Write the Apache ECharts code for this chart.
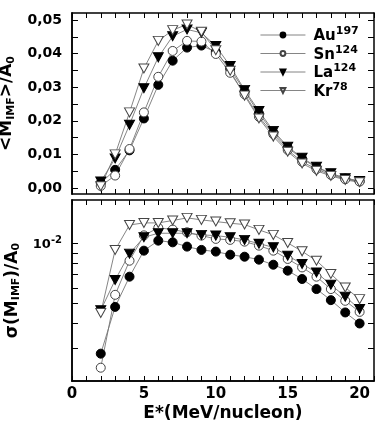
<!DOCTYPE html>
<html>
<head>
<meta charset="utf-8">
<script src="https://cdn.jsdelivr.net/npm/echarts@6/dist/echarts.min.js"></script>
<style>
    html, body { margin: 0; padding: 0; background: #fff; }
    #chart { width: 382px; height: 436px; }
</style>
</head>
<body>
<div id="chart"></div>
<script>
    // 激发能 E*(MeV/nucleon)
    const energy = [2, 3, 4, 5, 6, 7, 8, 9, 10, 11, 12, 13, 14, 15, 16, 17, 18, 19, 20];
    const systems = ["Au", "Sn", "La", "Kr"];
    const masses = { Au: "197", Sn: "124", La: "124", Kr: "78" };

    // 上图 <M_IMF>/A0
    const meanAu = [0.0015, 0.0054, 0.0112, 0.0207, 0.0307, 0.0379, 0.0418, 0.0424, 0.0405, 0.0355, 0.0288, 0.0222, 0.0165, 0.012, 0.0087, 0.0061, 0.0042, 0.0028, 0.002];
    const meanSn = [0.0006, 0.0037, 0.0116, 0.0225, 0.0331, 0.0408, 0.0438, 0.0436, 0.0399, 0.0343, 0.0279, 0.0212, 0.016, 0.0113, 0.0078, 0.0056, 0.0039, 0.0026, 0.0019];
    const meanLa = [0.0019, 0.0088, 0.0188, 0.0297, 0.0389, 0.0452, 0.0472, 0.0462, 0.0423, 0.0363, 0.0292, 0.0229, 0.017, 0.0123, 0.009, 0.0063, 0.0044, 0.0029, 0.0021];
    const meanKr = [0.0005, 0.01, 0.0225, 0.0356, 0.0438, 0.047, 0.0487, 0.0465, 0.041, 0.0349, 0.0275, 0.0207, 0.0153, 0.0108, 0.0073, 0.0051, 0.0036, 0.0024, 0.0017];

    // 下图 sigma(M_IMF)/A0 (对数轴)
    const sigAu = [0.00281, 0.00482, 0.00683, 0.00922, 0.01035, 0.01015, 0.00966, 0.0093, 0.00912, 0.0088, 0.0086, 0.00831, 0.00784, 0.00732, 0.00665, 0.00592, 0.00521, 0.00452, 0.00398];
    const sigSn = [0.00239, 0.00554, 0.00821, 0.011, 0.012, 0.01176, 0.0114, 0.01097, 0.01056, 0.01044, 0.01023, 0.00977, 0.00922, 0.00838, 0.0076, 0.00683, 0.00592, 0.00517, 0.00455];
    const sigLa = [0.00464, 0.00657, 0.00891, 0.01076, 0.01127, 0.01127, 0.01127, 0.01106, 0.01097, 0.01076, 0.01044, 0.01, 0.00958, 0.0087, 0.00791, 0.00717, 0.00622, 0.00542, 0.0047];
    const sigKr = [0.00449, 0.0093, 0.0124, 0.0127, 0.0127, 0.01305, 0.01346, 0.01315, 0.0129, 0.01265, 0.01246, 0.01172, 0.01106, 0.01008, 0.00915, 0.00821, 0.00705, 0.00603, 0.00527];

    // 刻度
    const xLabels = [0, 5, 10, 15, 20];
    const meanTicks = [0, 0.005, 0.01, 0.015, 0.02, 0.025, 0.03, 0.035, 0.04, 0.045, 0.05];
    const meanLabels = [0, 0.01, 0.02, 0.03, 0.04, 0.05];
    const sigTicks = [0.002, 0.003, 0.004, 0.005, 0.006, 0.007, 0.008, 0.009, 0.01];
    const sigLabels = [0.01];

    const FONT = "DejaVu Sans";
    const GRID_W = 302;
    const GRID_H = 181;
    const downTri = "path://M0,0L10,0L5,9Z";
    let markers = {
        Au: { symbol: "circle", size: 9, fill: "#000", border: "#000" },
        Sn: { symbol: "circle", size: 9, fill: "#fff", border: "#444" },
        La: { symbol: downTri, size: [10, 9], fill: "#000", border: "#000" },
        Kr: { symbol: downTri, size: [10, 9], fill: "#fff", border: "#444" },
    };
    let meanData = { Au: meanAu, Sn: meanSn, La: meanLa, Kr: meanKr };
    let sigData = { Au: sigAu, Sn: sigSn, La: sigLa, Kr: sigKr };

    let axisLine = { show: true, onZero: false, lineStyle: { color: "#000", width: 1.5 } };
    let tickLine = { color: "#000", width: 1 };
    let boldText = { fontFamily: FONT, fontWeight: "bold", color: "#000" };

    // 框内刻度: 反向放置 + 负 offset, 让外刻度朝里
    function xTickAxis(gridIndex, position) {
        return {
            type: "value",
            gridIndex: gridIndex,
            position: position,
            offset: -GRID_H,
            min: 0,
            max: 21,
            interval: 1,
            axisLine: axisLine,
            axisTick: { show: true, length: 5, lineStyle: tickLine },
            axisLabel: { show: false },
            splitLine: { show: false },
        };
    }

    function meanAxis(position, offset) {
        return {
            type: "value",
            gridIndex: 0,
            position: position,
            offset: offset,
            min: -0.0018,
            max: 0.0521,
            axisLine: axisLine,
            axisTick: { show: offset !== 0, length: 6, customValues: meanTicks, lineStyle: tickLine },
            axisLabel: {
                show: offset === 0,
                customValues: meanLabels,
                margin: 10,
                fontSize: 14,
                ...boldText,
                formatter: (v) => v.toFixed(2).replace(".", ","),
            },
            splitLine: { show: false },
        };
    }

    function sigAxis(position, offset) {
        return {
            type: "log",
            logBase: 10,
            gridIndex: 1,
            position: position,
            offset: offset,
            min: 0.00205,
            max: 0.01654,
            axisLine: axisLine,
            axisTick: { show: offset !== 0, length: 6, customValues: sigTicks, lineStyle: tickLine },
            minorTick: { show: false },
            axisLabel: {
                show: offset === 0,
                customValues: sigLabels,
                margin: 10,
                color: "#000",
                formatter: () => "{b|10}{s|-2}",
                rich: {
                    b: { ...boldText, fontSize: 13, lineHeight: 16, verticalAlign: "bottom" },
                    s: { ...boldText, fontSize: 10, lineHeight: 10, verticalAlign: "top" },
                },
            },
            splitLine: { show: false },
        };
    }

    let nameRich = {
        t: { ...boldText, fontSize: 17, lineHeight: 18, verticalAlign: "top" },
        u: { ...boldText, fontSize: 11, lineHeight: 9, verticalAlign: "bottom" },
    };

    let xAxes = [
        xTickAxis(0, "top"), // 上图下边框
        xTickAxis(0, "bottom"), // 上图上边框
        xTickAxis(1, "top"), // 下图下边框
        xTickAxis(1, "bottom"), // 下图上边框
        {
            type: "value",
            gridIndex: 1,
            position: "bottom",
            min: 0,
            max: 21,
            interval: 1,
            axisLine: axisLine,
            axisTick: { show: false },
            axisLabel: { customValues: xLabels, margin: 6, fontSize: 15, ...boldText },
            splitLine: { show: false },
            name: "E*(MeV/nucleon)",
            nameLocation: "middle",
            nameGap: 24,
            nameTextStyle: { ...boldText, fontSize: 17, verticalAlign: "top" },
        },
    ];

    let yAxes = [
        Object.assign(meanAxis("left", 0), {
            name: "{t|<M}{u|IMF}{t|>/A}{u|0}",
            nameLocation: "middle",
            nameRotate: 90,
            nameGap: 46,
            nameTextStyle: { rich: nameRich },
        }),
        meanAxis("right", -GRID_W), // 左边框刻度
        meanAxis("left", -GRID_W), // 右边框刻度
        Object.assign(sigAxis("left", 0), {
            name: "{t|σ(M}{u|IMF}{t|)/A}{u|0}",
            nameLocation: "middle",
            nameRotate: 90,
            nameGap: 46,
            nameTextStyle: { rich: nameRich },
        }),
        sigAxis("right", -GRID_W),
        sigAxis("left", -GRID_W),
    ];

    function makeSeries(name, values, xIndex, yIndex) {
        let m = markers[name];
        return {
            type: "line",
            name: name,
            xAxisIndex: xIndex,
            yAxisIndex: yIndex,
            data: energy.map((e, i) => [e, values[i]]),
            symbol: m.symbol,
            symbolSize: m.size,
            showAllSymbol: true,
            lineStyle: { color: "#777", width: 0.9 },
            itemStyle: { color: m.fill, borderColor: m.border, borderWidth: 1 },
            emphasis: { disabled: true },
            animation: false,
        };
    }

    let series = [];
    systems.forEach((name) => series.push(makeSeries(name, meanData[name], 0, 0)));
    systems.forEach((name) => series.push(makeSeries(name, sigData[name], 4, 3)));

    let options = {
        backgroundColor: "#fff",
        animation: false,
        grid: [
            { left: 72, width: GRID_W, top: 13, height: GRID_H, outerBoundsMode: "none" },
            { left: 72, width: GRID_W, top: 200, height: GRID_H, outerBoundsMode: "none" },
        ],
        legend: {
            data: systems,
            orient: "vertical",
            left: 255,
            top: 21,
            itemWidth: 45,
            itemHeight: 6,
            itemGap: 0.5,
            selectedMode: false,
            lineStyle: { width: 0.9, color: "#777" },
            formatter: (name) => "{b|" + name + "}{s|" + masses[name] + "}",
            textStyle: {
                rich: {
                    b: { ...boldText, fontSize: 15, lineHeight: 18, verticalAlign: "bottom", padding: [0, 0, 0, 3] },
                    s: { ...boldText, fontSize: 11, lineHeight: 12, verticalAlign: "top" },
                },
            },
        },
        xAxis: xAxes,
        yAxis: yAxes,
        series: series,
    };

    let myChart = echarts.init(document.getElementById("chart"), null, { renderer: "canvas" });
    myChart.setOption(options);
</script>
</body>
</html>
